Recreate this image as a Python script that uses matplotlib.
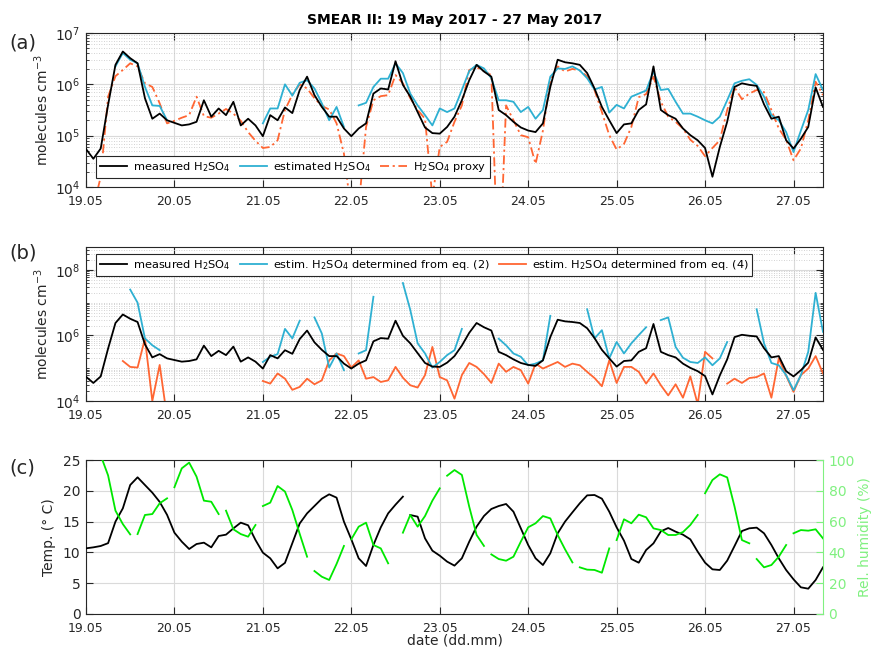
import numpy as np
import matplotlib
matplotlib.use("Agg")
import matplotlib.pyplot as plt
from matplotlib.ticker import FixedLocator, LogLocator, NullFormatter, MultipleLocator

nan = np.nan

# Sampling: every 2 hours from 19 May 00:00 (time expressed as day of May)
n_samples = 101
sample_hours = 2
days = 19 + np.arange(n_samples) * sample_hours / 24

day_ticks = [19, 20, 21, 22, 23, 24, 25, 26, 27]
day_labels = ["19.05", "20.05", "21.05", "22.05", "23.05", "24.05", "25.05", "26.05", "27.05"]

# log10 of H2SO4 concentration (molecules cm^-3)
measured_log = [
    4.74, 4.55, 4.75, 5.60, 6.38, 6.64, 6.51, 6.41, 5.73, 5.33,
    5.43, 5.30, 5.25, 5.20, 5.22, 5.27, 5.69, 5.37, 5.53, 5.40,
    5.66, 5.20, 5.33, 5.20, 4.99, 5.40, 5.30, 5.55, 5.44, 5.89,
    6.15, 5.79, 5.56, 5.37, 5.37, 5.14, 4.99, 5.14, 5.24, 5.82,
    5.92, 5.90, 6.45, 5.99, 5.76, 5.46, 5.16, 5.05, 5.04, 5.17,
    5.37, 5.69, 6.08, 6.38, 6.25, 6.15, 5.50, 5.40, 5.27, 5.16,
    5.10, 5.07, 5.24, 5.95, 6.48, 6.43, 6.41, 6.38, 6.22, 5.92,
    5.56, 5.30, 5.05, 5.22, 5.24, 5.50, 5.61, 6.35, 5.50, 5.40,
    5.33, 5.14, 5.01, 4.91, 4.76, 4.20, 4.78, 5.27, 5.95, 6.02,
    5.99, 5.97, 5.61, 5.33, 5.37, 4.91, 4.75, 4.94, 5.17, 5.94, 5.56,
]

estimated_log = [
    nan, nan, nan, nan, 6.35, 6.61, 6.48, 6.41, 5.95, 5.59,
    5.58, 5.30, nan, nan, nan, nan, nan, nan, nan, nan,
    nan, nan, nan, nan, 5.24, 5.53, 5.53, 6.00, 5.78, 6.03,
    6.08, 5.92, 5.63, 5.30, 5.56, 5.17, nan, 5.59, 5.64, 5.95,
    6.11, 6.11, 6.41, 6.22, 5.82, 5.59, 5.40, 5.20, 5.53, 5.46,
    5.53, 5.89, 6.26, 6.38, 6.31, 6.12, 5.69, 5.69, 5.66, 5.46,
    5.56, 5.33, 5.50, 6.15, 6.31, 6.30, 6.35, 6.27, 6.12, 5.90,
    5.95, 5.45, 5.60, 5.53, 5.76, 5.82, 5.88, 6.25, 5.89, 5.91,
    5.66, 5.43, 5.43, 5.37, 5.30, 5.24, 5.37, 5.69, 6.02, 6.07,
    6.10, 5.99, 5.76, 5.40, 5.30, 5.07, 4.68, 5.10, 5.50, 6.20, 5.89,
]

proxy_log = [
    nan, 3.60, 4.20, 5.76, 6.16, 6.28, 6.41, 6.35, 6.02, 5.95,
    5.63, 5.24, 5.29, 5.35, 5.40, 5.76, 5.38, 5.35, 5.43, 5.52,
    5.43, 5.29, 5.07, 4.90, 4.76, 4.78, 4.91, 5.50, 5.80, 6.00,
    5.92, 5.73, 5.58, 5.51, 5.24, 4.65, 3.50, 3.60, 5.17, 5.69,
    5.77, 5.79, 6.18, 6.02, 5.73, 5.50, 5.33, 3.80, 4.78, 4.88,
    5.27, 5.59, 6.28, 6.33, 6.26, 6.18, 2.00, 5.59, 5.30, 5.01,
    4.97, 4.45, 5.10, 6.08, 6.35, 6.25, 6.30, 6.27, 6.16, 5.89,
    5.46, 5.01, 4.73, 4.84, 5.17, 5.75, 5.81, 6.15, 5.66, 5.37,
    5.27, 5.14, 4.92, 4.80, 4.60, 4.76, 4.91, 5.50, 5.94, 5.71,
    5.82, 5.89, 5.85, 5.50, 5.14, 4.92, 4.52, 4.75, 5.30, 6.05, 5.79,
]

eq2_log = [
    nan, nan, nan, nan, nan, nan, 7.40, 7.00, 5.91, 5.70,
    5.55, nan, nan, nan, nan, nan, nan, nan, nan, nan,
    nan, nan, nan, nan, 5.19, 5.35, 5.43, 6.20, 5.91, 6.45,
    nan, 6.55, 6.06, 5.02, 5.45, 4.94, nan, 5.45, 5.55, 7.18,
    nan, nan, nan, 7.60, 6.78, 5.76, 5.45, 5.02, 5.19, 5.40,
    5.55, 6.20, nan, nan, nan, nan, 5.90, 5.70, 5.45, 5.35,
    5.09, 5.14, 5.24, 6.60, nan, nan, nan, nan, 6.80, 5.91,
    6.16, 5.30, 5.80, 5.45, 5.76, 6.01, 6.25, nan, 6.47, 6.55,
    5.65, 5.32, 5.19, 5.16, 5.33, 5.09, 5.30, 5.80, nan, nan,
    nan, 6.80, 5.76, 5.16, 5.09, 4.79, 4.33, 4.79, 5.50, 7.30, 6.11,
]

eq4_log = [
    nan, nan, nan, nan, nan, 5.22, 5.04, 5.02, 5.90, 4.00,
    5.10, 3.50, nan, nan, nan, nan, nan, nan, nan, nan,
    nan, nan, nan, nan, 4.61, 4.53, 4.84, 4.68, 4.34, 4.43,
    4.68, 4.51, 4.63, 5.24, 5.45, 5.37, 5.02, 5.24, 4.68, 4.73,
    4.58, 4.63, 5.04, 4.71, 4.48, 4.41, 4.79, 5.65, 4.73, 4.63,
    4.07, 4.79, 5.16, 5.04, 4.82, 4.55, 5.14, 4.89, 5.04, 4.94,
    4.53, 5.14, 4.99, 5.09, 5.19, 5.04, 5.14, 5.09, 4.89, 4.70,
    4.45, 5.24, 4.55, 5.04, 5.04, 4.89, 4.53, 4.84, 4.48, 4.17,
    4.51, 4.10, 4.75, 3.90, 5.50, 5.30, nan, 4.53, 4.68, 4.55,
    4.70, 4.73, 4.84, 4.10, 5.30, 4.77, 4.28, 4.79, 4.99, 5.37, 4.84,
]

# Air temperature (deg C) and relative humidity (%)
temperature = [
    10.66, 10.82, 11.04, 11.50, 15.00, 17.15, 20.94, 22.19, 20.94, 19.70,
    18.20, 16.10, 13.20, 11.74, 10.55, 11.36, 11.58, 10.82, 12.66, 12.88,
    13.90, 14.83, 14.40, 12.01, 9.96, 9.04, 7.41, 8.30, 11.50, 14.70,
    16.34, 17.53, 18.72, 19.43, 18.89, 14.99, 12.12, 9.04, 7.79, 11.20,
    14.07, 16.34, 17.75, 19.05, 16.07, 15.80, 12.28, 10.28, 9.47, 8.50,
    7.85, 9.04, 11.74, 14.18, 15.91, 17.05, 17.53, 17.86, 16.61, 13.91,
    11.20, 9.04, 7.95, 9.85, 13.10, 15.00, 16.50, 17.97, 19.26, 19.32,
    18.72, 16.61, 14.07, 11.90, 8.93, 8.33, 10.39, 11.47, 13.42, 13.96,
    13.37, 12.88, 12.12, 10.12, 8.33, 7.25, 7.14, 8.66, 11.04, 13.47,
    13.91, 14.02, 13.10, 11.20, 9.04, 7.14, 5.63, 4.33, 4.11, 5.52, 7.58,
]

rel_humidity = [
    nan, nan, 103.0, 90.0, 67.1, 58.4, 51.7, 51.9, 64.3, 64.9,
    71.9, 75.1, 82.3, 94.6, 98.3, 89.2, 73.6, 72.9, 64.9, 67.1,
    55.0, 51.9, 50.2, 57.8, 70.1, 72.3, 83.1, 79.5, 67.5, 52.0,
    37.2, 27.9, 24.2, 22.1, 32.5, 44.2, 48.5, 56.7, 59.3, 44.8,
    42.6, 32.9, 48.5, 52.8, 64.3, 56.7, 63.6, 73.6, 81.6, 89.8,
    93.5, 90.3, 69.7, 51.3, 44.2, 38.7, 35.7, 34.6, 37.2, 47.0,
    56.3, 58.9, 63.6, 62.1, 51.3, 42.0, 33.5, 30.3, 28.8, 28.6,
    26.8, 42.6, 48.0, 61.5, 58.9, 64.5, 62.8, 55.6, 54.5, 51.3,
    51.3, 53.2, 57.8, 64.3, 78.4, 87.0, 90.7, 88.7, 69.7, 48.0,
    45.9, 35.7, 30.3, 31.8, 37.2, 44.8, 52.4, 54.5, 54.1, 55.0, 49.1,
]

# Times (day of May) at which the records have missing samples
temperature_gaps = [22.61]
humidity_gaps = [19.54, 19.96, 20.55, 20.97, 21.55, 21.97, 22.47, 22.55,
                 23.01, 23.57, 24.54, 24.97, 25.97, 26.55, 26.97]


def with_gaps(t, values, gap_times):
    tt = np.concatenate([np.asarray(t, float), np.asarray(gap_times, float)])
    vv = np.concatenate([np.asarray(values, float), np.full(len(gap_times), np.nan)])
    order = np.argsort(tt, kind="stable")
    return tt[order], vv[order]


def conc(log_values):
    return 10.0 ** np.asarray(log_values, float)


plt.rcParams["font.family"] = ["DejaVu Sans"]
plt.rcParams["mathtext.default"] = "regular"

dark = "#262626"
c_meas = "black"
c_est = "#2eb0d2"
c_orange = "#ff6633"
c_rh = "#00e800"
c_rh_axis = "#80f080"

fig = plt.figure(figsize=(8.72, 6.5), dpi=100)
left, width, height = 0.0986, 0.8452, 0.2369
ax_a = fig.add_axes([left, 0.7123, width, height])
ax_b = fig.add_axes([left, 0.3831, width, height])
ax_c = fig.add_axes([left, 0.0554, width, height])


def style_axis(ax, log=True, right_ticks=True):
    ax.set_xlim(19, 19 + 100 * sample_hours / 24)
    ax.set_xticks(day_ticks)
    ax.set_xticklabels(day_labels)
    ax.tick_params(which="both", direction="in", top=True, right=right_ticks,
                   colors=dark, labelsize=9)
    ax.tick_params(axis="x", pad=6)
    ax.tick_params(axis="y", pad=4, labelsize=10)
    ax.tick_params(which="major", length=5, width=0.8)
    ax.tick_params(which="minor", length=2.5, width=0.6)
    for s in ax.spines.values():
        s.set_color(dark)
        s.set_linewidth(0.8)
    ax.grid(True, which="major", color="#dadada", linewidth=0.8, linestyle="-")
    if log:
        ax.grid(True, which="minor", axis="y", color="#c4c4c4", linewidth=0.6,
                linestyle=(0, (1, 2)))
    ax.set_axisbelow(True)


legend_kw = dict(fontsize=8.2, frameon=True, fancybox=False, framealpha=1,
                 edgecolor=dark, handlelength=2.4, columnspacing=0.8,
                 handletextpad=0.5, borderpad=0.35, borderaxespad=0, ncol=3)

# ---------------- (a) ----------------
ax_a.set_yscale("log")
ax_a.plot(days, conc(measured_log), color=c_meas, lw=1.3, label="measured H$_2$SO$_4$", zorder=4)
ax_a.plot(days, conc(estimated_log), color=c_est, lw=1.3, label="estimated H$_2$SO$_4$", zorder=3)
ax_a.plot(days, conc(proxy_log), color=c_orange, lw=1.3, linestyle=(0, (5, 2, 1.2, 2)),
          label="H$_2$SO$_4$ proxy", zorder=2)
ax_a.set_ylim(1e4, 1e7)
ax_a.yaxis.set_major_locator(FixedLocator([1e4, 1e5, 1e6, 1e7]))
ax_a.yaxis.set_minor_locator(LogLocator(base=10, subs=np.arange(2, 10), numticks=20))
ax_a.yaxis.set_minor_formatter(NullFormatter())
style_axis(ax_a)
ax_a.set_ylabel("molecules cm$^{-3}$", fontsize=10, color=dark, labelpad=3)
leg_a = ax_a.legend(loc="lower left", bbox_to_anchor=(0.0136, 0.058), **legend_kw)
leg_a.get_frame().set_linewidth(0.8)
leg_a.set_zorder(10)

# ---------------- (b) ----------------
ax_b.set_yscale("log")
ax_b.plot(days, conc(measured_log), color=c_meas, lw=1.3, label="measured H$_2$SO$_4$", zorder=4)
ax_b.plot(days, conc(eq2_log), color=c_est, lw=1.3,
          label="estim. H$_2$SO$_4$ determined from eq. (2)", zorder=3)
ax_b.plot(days, conc(eq4_log), color=c_orange, lw=1.3,
          label="estim. H$_2$SO$_4$ determined from eq. (4)", zorder=2)
ax_b.set_ylim(1e4, 5e8)
ax_b.yaxis.set_major_locator(FixedLocator([1e4, 1e6, 1e8]))
ax_b.yaxis.set_minor_locator(LogLocator(base=10, subs=np.arange(1, 10), numticks=30))
ax_b.yaxis.set_minor_formatter(NullFormatter())
style_axis(ax_b)
ax_b.set_ylabel("molecules cm$^{-3}$", fontsize=10, color=dark, labelpad=3)
leg_b = ax_b.legend(loc="upper left", bbox_to_anchor=(0.0136, 0.955), **legend_kw)
leg_b.get_frame().set_linewidth(0.8)
leg_b.set_zorder(10)

# ---------------- (c) ----------------
t_temp, v_temp = with_gaps(days, temperature, temperature_gaps)
t_rh, v_rh = with_gaps(days, rel_humidity, humidity_gaps)
ax_c.plot(t_temp, v_temp, color="black", lw=1.3, zorder=3)
ax_c.set_ylim(0, 25)
ax_c.yaxis.set_major_locator(MultipleLocator(5))
style_axis(ax_c, log=False, right_ticks=False)
ax_c.set_ylabel("Temp. (° C)", fontsize=10, color=dark, labelpad=5)
ax_c.set_xlabel("date (dd.mm)", fontsize=10, color=dark, labelpad=-1)
ax_c.spines["right"].set_visible(False)

ax_rh = ax_c.twinx()
ax_rh.plot(t_rh, v_rh, color=c_rh, lw=1.3, zorder=3)
ax_rh.set_ylim(0, 100)
ax_rh.yaxis.set_major_locator(MultipleLocator(20))
ax_rh.tick_params(axis="y", direction="in", colors=c_rh_axis, labelsize=10,
                  length=5, width=0.8, pad=4)
for name, s in ax_rh.spines.items():
    s.set_visible(name == "right")
ax_rh.spines["right"].set_color(c_rh_axis)
ax_rh.spines["right"].set_linewidth(0.8)
ax_rh.set_ylabel("Rel. humidity (%)", fontsize=10, color=c_rh_axis, labelpad=2)

# ---------------- labels ----------------
fig.text(0.5212, 1 - 20 / 650, "SMEAR II: 19 May 2017 - 27 May 2017",
         ha="center", va="center", fontsize=10, fontweight="bold", color="black")
for lab, y in (("(a)", 43), ("(b)", 253), ("(c)", 468)):
    fig.text(0.026, 1 - y / 650, lab, ha="center", va="center", fontsize=14, color=dark)

fig.savefig("out.png", dpi=100)
